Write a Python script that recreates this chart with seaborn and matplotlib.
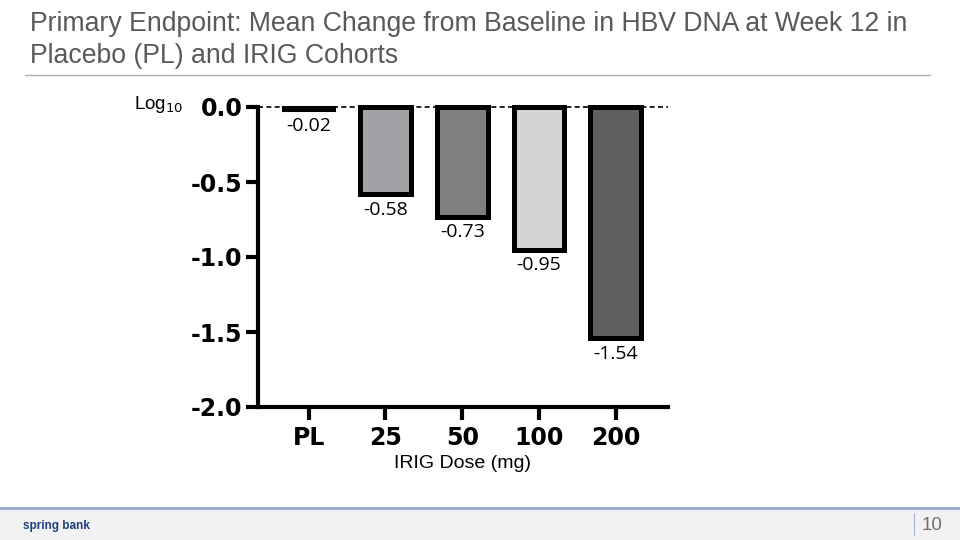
import matplotlib
matplotlib.use("Agg")
import matplotlib.pyplot as plt
import seaborn as sns
import pandas as pd
from matplotlib.lines import Line2D
from matplotlib.patches import Rectangle

categories = ["PL", "25", "50", "100", "200"]
values = [-0.02, -0.58, -0.73, -0.95, -1.54]
value_labels = ["-0.02", "-0.58", "-0.73", "-0.95", "-1.54"]
bar_colors = ["#ffffff", "#a2a2a6", "#808080", "#d4d4d4", "#5f5f5f"]
yticks = [0.0, -0.5, -1.0, -1.5, -2.0]
ytick_labels = ["0.0", "-0.5", "-1.0", "-1.5", "-2.0"]

sns.set_theme(style="white")
plt.rcParams["font.family"] = ["Liberation Sans", "DejaVu Sans"]

fig = plt.figure(figsize=(9.6, 5.4), dpi=100)
ax = fig.add_axes([258/960, 1-407/540, 410/960, 300/540])

df = pd.DataFrame({"dose": categories, "change": values})
sns.barplot(data=df, x="dose", y="change", hue="dose", palette=bar_colors,
            order=categories, hue_order=categories, legend=False,
            width=0.66, edgecolor="black", linewidth=3.6, ax=ax, saturation=1)
for p in ax.patches:
    p.set_clip_on(False)
ax.patches[0].set_linewidth(2.2)

ax.set_xlim(-0.66, 4.68)
ax.set_ylim(-2.0, 0.0)
ax.axhline(0, color="black", lw=1.2, ls=(0, (3, 2)), zorder=0, clip_on=False)

ax.set_yticks(yticks)
ax.set_yticklabels(ytick_labels)
for lab in ax.get_yticklabels() + ax.get_xticklabels():
    lab.set_fontweight("heavy")
    lab.set_fontsize(17)
    lab.set_fontfamily(["DejaVu Sans"])
    lab.set_color("black")
ax.tick_params(axis="both", direction="out", length=9, width=3, color="black",
               pad=2, bottom=True, left=True)
ax.tick_params(axis="x", pad=5)

for s in ["top", "right"]:
    ax.spines[s].set_visible(False)
for s in ["left", "bottom"]:
    ax.spines[s].set_color("black")
    ax.spines[s].set_linewidth(3)

ax.set_xlabel("IRIG Dose (mg)", fontsize=14, labelpad=3, color="black")
ax.set_ylabel("")

for i, (v, t) in enumerate(zip(values, value_labels)):
    ax.annotate(t, (i, v), xytext=(0, -5), textcoords="offset points",
                ha="center", va="top", fontsize=14, color="black",
                family=["Open Sans", "DejaVu Sans"])

fig.text(134/960, 1-104/540, r"Log$_{10}$", fontsize=13.5, ha="left", va="center", color="black")

# Title
fig.text(30/960, 1-24/540, "Primary Endpoint: Mean Change from Baseline in HBV DNA at Week 12 in",
         fontsize=19.2, color="#595959", ha="left", va="center")
fig.text(30/960, 1-56/540, "Placebo (PL) and IRIG Cohorts",
         fontsize=19.2, color="#595959", ha="left", va="center")
fig.add_artist(Line2D([25/960, 930/960], [1-75/540, 1-75/540], color="#b0b0b0", lw=1))

# Footer
fig.add_artist(Rectangle((0, 0), 1, 32/540, color="#f2f2f2", zorder=0))
fig.add_artist(Line2D([0, 1], [32/540, 32/540], color="#93a9c8", lw=2))
fig.add_artist(Line2D([914/960, 914/960], [5/540, 27/540], color="#a8b8cc", lw=0.8))
fig.text(922/960, 15/540, "10", fontsize=13.5, color="#707070", ha="left", va="center")
fig.text(23/960, 14/540, "spring bank", fontsize=8.5, color="#1f3f7f", ha="left", va="center",
         fontweight="bold")

fig.savefig("out.png", dpi=100)
